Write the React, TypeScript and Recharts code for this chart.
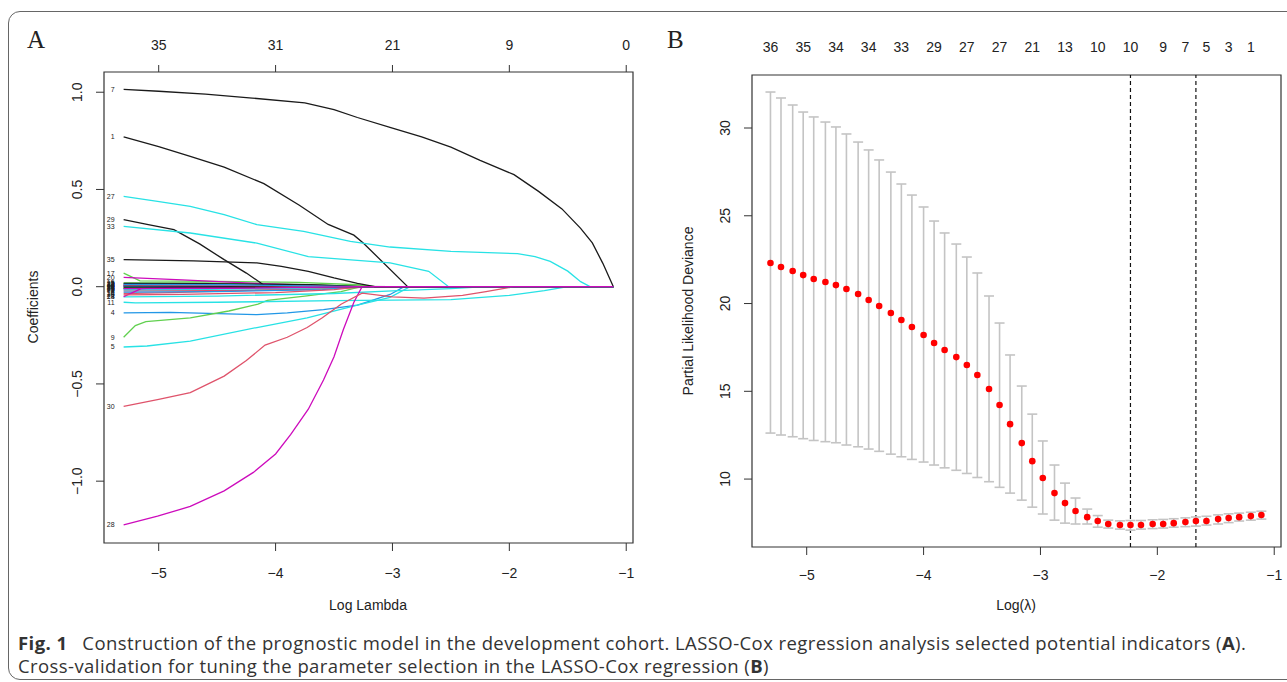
import React from "react";
import {
  ComposedChart,
  ErrorBar,
  Line,
  LineChart,
  ReferenceArea,
  ReferenceLine,
  Scatter,
  XAxis,
  YAxis,
} from "recharts";

// ---- panel A: LASSO coefficient paths ----
const A_X_TICKS = [-5, -4, -3, -2, -1];
const A_TOP_LABELS = ["35", "31", "21", "9", "0"];
const A_Y_TICKS = [-1, -0.5, 0, 0.5, 1];
const LAST_LOG_LAMBDA = -1.11;

// [log lambda, coefficient]
const path1 = [[-5.3, 0.77], [-5.0, 0.72], [-4.73, 0.67], [-4.44, 0.615], [-4.1, 0.53], [-3.8, 0.42], [-3.55, 0.32], [-3.33, 0.265], [-3.25, 0.225], [-2.87, 0]];
const path2 = [[-5.3, -0.022], [-4.5, -0.02], [-3.8, -0.015], [-3.3, -0.005], [-3.2, 0]];
const path3 = [[-5.3, 0.014], [-4.5, 0.013], [-3.6, 0.008], [-3.3, 0]];
const path4 = [[-5.3, -0.135], [-4.9, -0.132], [-4.16, -0.144], [-3.9, -0.135], [-3.59, -0.118], [-3.3, -0.095], [-3.2, -0.075], [-3.02, -0.04], [-2.9, 0]];
const path5 = [[-5.3, -0.31], [-5.1, -0.305], [-4.73, -0.28], [-4.16, -0.21], [-3.73, -0.16], [-3.3, -0.095], [-3.02, -0.055], [-2.85, 0]];
const path6 = [[-5.3, 0.006], [-4.2, 0.004], [-3.5, 0]];
const path7 = [[-5.3, 1.015], [-5.0, 1.005], [-4.6, 0.99], [-4.2, 0.97], [-3.75, 0.945], [-3.5, 0.91], [-3.3, 0.87], [-3.0, 0.815], [-2.75, 0.77], [-2.5, 0.718], [-2.25, 0.65], [-1.96, 0.576], [-1.75, 0.49], [-1.55, 0.4], [-1.39, 0.3], [-1.29, 0.225], [-1.2, 0.12], [-1.11, 0]];
const path8 = [[-5.3, -0.012], [-4.8, -0.01], [-4.0, -0.006], [-3.5, 0]];
const path9 = [[-5.3, -0.26], [-5.2, -0.2], [-5.11, -0.18], [-4.73, -0.16], [-4.4, -0.125], [-4.15, -0.09], [-4.07, -0.07], [-3.75, -0.048], [-3.44, -0.025], [-3.27, 0]];
const path10 = [[-5.3, 0.003], [-4.4, 0.002], [-3.6, 0]];
const path11 = [[-5.3, -0.08], [-5.2, -0.083], [-4.5, -0.08], [-3.5, -0.072], [-2.5, -0.067], [-2.0, -0.045], [-1.7, -0.02], [-1.5, 0]];
const path12 = [[-5.3, 0.01], [-4.5, 0.008], [-3.3, 0]];
const path13 = [[-5.3, 0.004], [-4.5, 0.003], [-3.0, 0]];
const path14 = [[-5.3, -0.035], [-4.9, -0.03], [-4.3, -0.02], [-3.6, -0.008], [-3.3, 0]];
const path15 = [[-5.3, 0.02], [-4.6, 0.02], [-3.8, 0.012], [-3.25, 0]];
const path16 = [[-5.3, -0.028], [-4.5, -0.025], [-3.6, -0.015], [-3.3, 0]];
const path17 = [[-5.3, 0.07], [-5.16, 0.03], [-4.5, 0.027], [-3.8, 0.022], [-3.3, 0.01], [-3.15, 0]];
const path18 = [[-5.3, -0.052], [-4.5, -0.048], [-3.5, -0.035], [-3.0, -0.022], [-2.5, -0.01], [-2.2, 0]];
const path19 = [[-5.3, -0.008], [-4.2, -0.006], [-3.3, 0]];
const path20 = [[-5.3, 0.048], [-4.8, 0.035], [-4.16, 0.017], [-3.6, 0.005], [-3.4, 0]];
const path21 = [[-5.3, -0.004], [-4.7, -0.003], [-3.8, 0]];
const path22 = [[-5.3, 0.002], [-3.9, 0]];
const path23 = [[-5.3, -0.016], [-4.6, -0.014], [-3.6, -0.006], [-3.2, 0]];
const path24 = [[-5.3, -0.051], [-5.15, -0.01], [-4.9, -0.004], [-3.5, 0]];
const path25 = [[-5.3, 0.017], [-4.6, 0.016], [-3.7, 0.01], [-3.25, 0]];
const path26 = [[-5.3, -0.042], [-4.8, -0.04], [-4.0, -0.03], [-3.5, -0.015], [-3.25, 0]];
const path27 = [[-5.3, 0.464], [-5.01, 0.439], [-4.73, 0.413], [-4.44, 0.37], [-4.16, 0.319], [-3.76, 0.284], [-3.36, 0.233], [-3.02, 0.204], [-2.5, 0.182], [-1.93, 0.17], [-1.78, 0.155], [-1.65, 0.13], [-1.5, 0.08], [-1.39, 0.026], [-1.31, 0]];
const path28 = [[-5.3, -1.225], [-5.01, -1.18], [-4.73, -1.13], [-4.44, -1.05], [-4.19, -0.955], [-4.0, -0.86], [-3.87, -0.76], [-3.72, -0.63], [-3.59, -0.48], [-3.5, -0.36], [-3.42, -0.22], [-3.33, -0.08], [-3.26, 0]];
const path29 = [[-5.3, 0.345], [-5.1, 0.32], [-4.87, 0.293], [-4.65, 0.22], [-4.44, 0.139], [-4.25, 0.07], [-4.08, 0]];
const path30 = [[-5.3, -0.615], [-5.0, -0.58], [-4.73, -0.545], [-4.44, -0.46], [-4.25, -0.38], [-4.09, -0.3], [-3.9, -0.26], [-3.73, -0.21], [-3.6, -0.16], [-3.44, -0.09], [-3.26, -0.033], [-3.0, -0.052], [-2.73, -0.059], [-2.4, -0.045], [-2.2, -0.025], [-1.96, 0]];
const path31 = [[-5.3, -0.002], [-4.0, 0]];
const path32 = [[-5.3, 0.009], [-4.4, 0.007], [-3.4, 0]];
const path33 = [[-5.3, 0.31], [-4.73, 0.276], [-4.16, 0.224], [-3.72, 0.155], [-3.02, 0.122], [-2.69, 0.079], [-2.52, 0]];
const path34 = [[-5.3, 0.012], [-4.4, 0.01], [-3.3, 0]];
const path35 = [[-5.3, 0.139], [-4.7, 0.133], [-4.16, 0.122], [-3.95, 0.105], [-3.72, 0.079], [-3.5, 0.045], [-3.3, 0.017], [-3.15, 0]];
const path36 = [[-5.3, -0.01], [-4.4, -0.009], [-3.3, 0]];

const BLACK = "#1a1a1a";
const RED = "#DF536B";
const GREEN = "#61D04F";
const BLUE = "#2297E6";
const CYAN = "#28E2E5";
const MAGENTA = "#CD0BBC";

const PATHS: { id: string; color: string; pts: number[][] }[] = [
  { id: "1", color: BLACK, pts: path1 },
  { id: "2", color: RED, pts: path2 },
  { id: "3", color: GREEN, pts: path3 },
  { id: "4", color: BLUE, pts: path4 },
  { id: "5", color: CYAN, pts: path5 },
  { id: "6", color: MAGENTA, pts: path6 },
  { id: "7", color: BLACK, pts: path7 },
  { id: "8", color: BLUE, pts: path8 },
  { id: "9", color: GREEN, pts: path9 },
  { id: "10", color: BLUE, pts: path10 },
  { id: "11", color: CYAN, pts: path11 },
  { id: "12", color: MAGENTA, pts: path12 },
  { id: "13", color: BLACK, pts: path13 },
  { id: "14", color: RED, pts: path14 },
  { id: "15", color: GREEN, pts: path15 },
  { id: "16", color: BLUE, pts: path16 },
  { id: "17", color: GREEN, pts: path17 },
  { id: "18", color: CYAN, pts: path18 },
  { id: "19", color: BLACK, pts: path19 },
  { id: "20", color: MAGENTA, pts: path20 },
  { id: "21", color: GREEN, pts: path21 },
  { id: "22", color: BLUE, pts: path22 },
  { id: "23", color: CYAN, pts: path23 },
  { id: "24", color: MAGENTA, pts: path24 },
  { id: "25", color: BLACK, pts: path25 },
  { id: "26", color: RED, pts: path26 },
  { id: "27", color: CYAN, pts: path27 },
  { id: "28", color: MAGENTA, pts: path28 },
  { id: "29", color: BLACK, pts: path29 },
  { id: "30", color: RED, pts: path30 },
  { id: "31", color: BLACK, pts: path31 },
  { id: "32", color: RED, pts: path32 },
  { id: "33", color: CYAN, pts: path33 },
  { id: "34", color: BLUE, pts: path34 },
  { id: "35", color: BLACK, pts: path35 },
  { id: "36", color: MAGENTA, pts: path36 },
];

// ---- panel B: cross-validation curve ----
const LOG_LAMBDA = [
  -5.31, -5.22, -5.12, -5.03, -4.94, -4.84, -4.75, -4.66, -4.56, -4.47, -4.38, -4.28,
  -4.19, -4.1, -4.0, -3.91, -3.82, -3.72, -3.63, -3.54, -3.44, -3.35, -3.26, -3.16,
  -3.07, -2.98, -2.88, -2.79, -2.7, -2.6, -2.51, -2.42, -2.32, -2.23, -2.14, -2.04,
  -1.95, -1.86, -1.76, -1.67, -1.58, -1.48, -1.39, -1.3, -1.2, -1.11,
];
const CV_MEAN = [
  22.31, 22.08, 21.85, 21.62, 21.4, 21.23, 21.05, 20.83, 20.54, 20.2, 19.86, 19.46,
  19.06, 18.66, 18.21, 17.75, 17.35, 16.95, 16.5, 15.93, 15.13, 14.22, 13.13, 12.05,
  11.02, 10.06, 9.2, 8.63, 8.18, 7.83, 7.61, 7.44, 7.38, 7.38, 7.38, 7.44,
  7.44, 7.49, 7.55, 7.61, 7.61, 7.72, 7.78, 7.83, 7.89, 7.95,
];
const CV_LOWER = [
  12.62, 12.51, 12.41, 12.3, 12.2, 12.13, 12.07, 11.94, 11.84, 11.71, 11.58, 11.42,
  11.27, 11.12, 10.97, 10.8, 10.64, 10.5, 10.32, 10.09, 9.85, 9.53, 9.2, 8.8,
  8.4, 8.01, 7.66, 7.49, 7.44, 7.44, 7.26, 7.21, 7.15, 7.09, 7.15, 7.18,
  7.21, 7.26, 7.29, 7.32, 7.38, 7.44, 7.52, 7.61, 7.66, 7.72,
];
const CV_UPPER = [
  32.05, 31.71, 31.31, 30.91, 30.63, 30.34, 30.06, 29.66, 29.2, 28.75, 28.18, 27.49,
  26.81, 26.18, 25.5, 24.7, 24.02, 23.39, 22.65, 21.74, 20.43, 18.89, 17.07, 15.3,
  13.7, 12.17, 10.8, 9.77, 8.92, 8.29, 7.92, 7.66, 7.62, 7.64, 7.64, 7.68,
  7.7, 7.74, 7.79, 7.84, 7.88, 7.96, 8.02, 8.06, 8.11, 8.17,
];
const B_TOP_INDEX = [0, 3, 6, 9, 12, 15, 18, 21, 24, 27, 30, 33, 36, 38, 40, 42, 44];
const B_TOP_LABELS = ["36", "35", "34", "34", "33", "29", "27", "27", "21", "13", "10", "10", "9", "7", "5", "3", "1"];
const B_X_TICKS = [-5, -4, -3, -2, -1];
const B_Y_TICKS = [10, 15, 20, 25, 30];
const LAMBDA_MIN = -2.23;
const LAMBDA_1SE = -1.67;

const A_XDOM: [number, number] = [-5.468, -0.942];
const A_YDOM: [number, number] = [-1.318, 1.104];
const B_XDOM: [number, number] = [-5.468, -0.942];
const B_YDOM: [number, number] = [6.13, 33.02];

const AXIS_FONT = "'Liberation Sans', Arial, sans-serif";
const AXIS_COL = "#333";
const minus = (s: string) => s.replace("-", "\u2212");

function RotTick(props: any) {
  const { x, y, payload, digits } = props;
  const label = minus(Number(payload.value).toFixed(digits));
  return (
    <text
      x={x}
      y={y}
      transform={`rotate(-90 ${x} ${y})`}
      textAnchor="middle"
      fontSize={14}
      fontFamily={AXIS_FONT}
      fill="#222"
    >
      {label}
    </text>
  );
}

const tickStyle = { fontSize: 14, fontFamily: AXIS_FONT, fill: "#222" };

function PanelA() {
  return (
    <LineChart width={660} height={682} margin={{ top: 42, left: 44, right: 27, bottom: 99 }}>
      <XAxis
        dataKey="x"
        type="number"
        domain={A_XDOM}
        allowDataOverflow
        ticks={A_X_TICKS}
        interval={0}
        height={40}
        axisLine={false}
        tickSize={8}
        tickMargin={17}
        tickLine={{ stroke: AXIS_COL }}
        tick={tickStyle}
        tickFormatter={(v: number) => minus(String(v))}
      />
      <XAxis
        xAxisId="top"
        dataKey="x"
        orientation="top"
        type="number"
        domain={A_XDOM}
        allowDataOverflow
        ticks={A_X_TICKS}
        interval={0}
        height={30}
        axisLine={false}
        tickSize={7}
        tickMargin={15}
        tickLine={{ stroke: AXIS_COL }}
        tick={tickStyle}
        tickFormatter={(_v: number, i: number) => A_TOP_LABELS[i]}
      />
      <YAxis
        type="number"
        domain={A_YDOM}
        allowDataOverflow
        ticks={A_Y_TICKS}
        interval={0}
        width={60}
        axisLine={false}
        tickSize={8}
        tickMargin={14}
        tickLine={{ stroke: AXIS_COL }}
        tick={<RotTick digits={1} />}
      />
      <ReferenceArea x1={A_XDOM[0]} x2={A_XDOM[1]} y1={A_YDOM[0]} y2={A_YDOM[1]} fill="none" stroke={AXIS_COL} strokeWidth={1.2} />
      {PATHS.map((p, k) => (
        <Line
          key={p.id}
          xAxisId={k === 0 ? "top" : 0}
          data={p.pts.concat([[LAST_LOG_LAMBDA, 0]]).map(([x, y]) => ({ x, y }))}
          dataKey="y"
          type="linear"
          stroke={p.color}
          strokeWidth={1.3}
          isAnimationActive={false}
          dot={(d: any) =>
            d.index === 0 ? (
              <text key={`l${p.id}`} x={d.cx - 9} y={d.cy + 2.5} textAnchor="end" fontSize={7} fontFamily={AXIS_FONT} fill="#222">
                {p.id}
              </text>
            ) : (
              <g key={`g${p.id}-${d.index}`} />
            )
          }
        />
      ))}
    </LineChart>
  );
}

function PanelB() {
  const rows = LOG_LAMBDA.map((x, i) => ({
    x,
    y: CV_MEAN[i],
    err: [CV_MEAN[i] - CV_LOWER[i], CV_UPPER[i] - CV_MEAN[i]],
  }));
  const topTicks = B_TOP_INDEX.map((i) => LOG_LAMBDA[i]);
  return (
    <ComposedChart width={637} height={682} data={rows} margin={{ top: 45, left: 42, right: 6, bottom: 95 }}>
      <XAxis
        dataKey="x"
        type="number"
        domain={B_XDOM}
        allowDataOverflow
        ticks={B_X_TICKS}
        interval={0}
        height={40}
        axisLine={false}
        tickSize={8}
        tickMargin={15}
        tickLine={{ stroke: AXIS_COL }}
        tick={tickStyle}
        tickFormatter={(v: number) => minus(String(v))}
      />
      <XAxis
        xAxisId="top"
        dataKey="x"
        orientation="top"
        type="number"
        domain={B_XDOM}
        allowDataOverflow
        ticks={topTicks}
        interval={0}
        height={30}
        axisLine={false}
        tickLine={false}
        tickSize={0}
        tickMargin={23}
        tick={tickStyle}
        tickFormatter={(_v: number, i: number) => B_TOP_LABELS[i]}
      />
      <YAxis
        type="number"
        domain={B_YDOM}
        allowDataOverflow
        ticks={B_Y_TICKS}
        interval={0}
        width={60}
        axisLine={false}
        tickSize={8}
        tickMargin={14}
        tickLine={{ stroke: AXIS_COL }}
        tick={<RotTick digits={0} />}
      />
      <ReferenceArea x1={B_XDOM[0]} x2={B_XDOM[1]} y1={B_YDOM[0]} y2={B_YDOM[1]} fill="none" stroke={AXIS_COL} strokeWidth={1.2} />
      <ReferenceLine x={LAMBDA_MIN} stroke="#111" strokeDasharray="4 3" strokeWidth={1.2} />
      <ReferenceLine x={LAMBDA_1SE} stroke="#111" strokeDasharray="4 3" strokeWidth={1.2} />
      <Scatter dataKey="y" isAnimationActive={false} shape={() => <g />}>
        <ErrorBar dataKey="err" direction="y" width={5} stroke="#c4c4c4" strokeWidth={1.6} isAnimationActive={false} />
      </Scatter>
      <Scatter
        xAxisId="top"
        dataKey="y"
        isAnimationActive={false}
        shape={(s: any) => <circle cx={s.cx} cy={s.cy} r={3.3} fill="#ff0000" />}
      />
    </ComposedChart>
  );
}

export default function App() {
  return (
    <div style={{ position: "absolute", left: 0, top: 0, width: 1287, height: 682, overflow: "hidden", background: "#fff" }}>
      <div
        style={{
          position: "absolute",
          left: 8,
          top: 11,
          width: 1320,
          height: 669,
          border: "1px solid #666",
          borderRadius: 12,
          boxSizing: "border-box",
        }}
      />
      <div style={{ position: "absolute", left: 0, top: 0 }}>
        <PanelA />
      </div>
      <div style={{ position: "absolute", left: 650, top: 0 }}>
        <PanelB />
      </div>
      <svg width={1287} height={682} style={{ position: "absolute", left: 0, top: 0, pointerEvents: "none" }}>
        <g fontFamily={AXIS_FONT} fontSize={14} fill="#222">
          <text x={368} y={610} textAnchor="middle">Log Lambda</text>
          <text x={1016} y={610} textAnchor="middle">Log(λ)</text>
          <text x={38} y={307} textAnchor="middle" transform="rotate(-90 38 307)">Coefficients</text>
          <text x={693} y={311} textAnchor="middle" transform="rotate(-90 693 311)">Partial Likelihood Deviance</text>
        </g>
        <g fontFamily="'Liberation Serif', 'Times New Roman', serif" fontSize={25} fill="#222">
          <text x={27} y={48}>A</text>
          <text x={667} y={48}>B</text>
        </g>
      </svg>
      <div
        style={{
          position: "absolute",
          left: 18,
          top: 631,
          fontFamily: "'Open Sans', sans-serif",
          fontSize: 18.5,
          letterSpacing: 0.42,
          lineHeight: "23px",
          color: "#333",
          whiteSpace: "nowrap",
        }}
      >
        <b>Fig. 1</b>
        {"\u2002 Construction of the prognostic model in the development cohort. LASSO-Cox regression analysis selected potential indicators ("}
        <b>A</b>
        {")."}
        <br />
        {"Cross-validation for tuning the parameter selection in the LASSO-Cox regression ("}
        <b>B</b>
        {")"}
      </div>
    </div>
  );
}
